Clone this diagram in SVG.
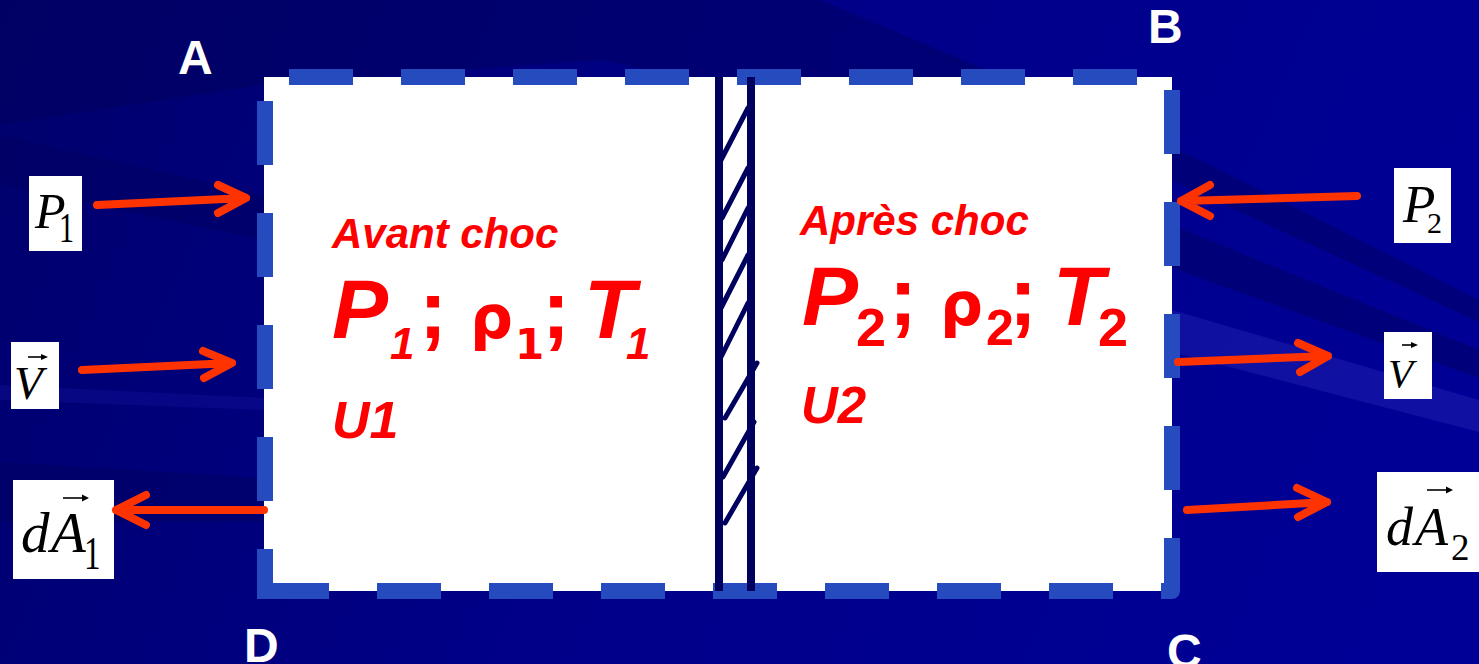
<svg xmlns="http://www.w3.org/2000/svg" width="1479" height="664" viewBox="0 0 1479 664">
<defs>
<linearGradient id="bg" x1="0" y1="0" x2="1479" y2="664" gradientUnits="userSpaceOnUse">
<stop offset="0" stop-color="#00006C"/>
<stop offset="0.45" stop-color="#000088"/>
<stop offset="1" stop-color="#000098"/>
</linearGradient>
<style>
.dash{stroke:#264BBE;stroke-width:16;fill:none;stroke-dasharray:64 48}
.corner{stroke:#264BBE;stroke-width:16;fill:none}
.shock{stroke:#00005E;stroke-width:8;fill:none}
.hatch{stroke:#00005E;stroke-width:5;fill:none;stroke-linecap:round}
.arrow{stroke:#FF3300;stroke-width:8;fill:none;stroke-linecap:round;stroke-linejoin:round}
.corner-lbl{font-family:"Liberation Sans",Arial,sans-serif;font-weight:bold;font-size:48px;fill:#FFFFFF}
.sans{font-family:"Liberation Sans",Arial,sans-serif;font-weight:bold;fill:#FF0000}
.it{font-style:italic}
.dv{font-family:"DejaVu Sans",sans-serif;font-weight:bold;fill:#FF0000}
.box{fill:#FFFFFF}
.math{font-family:"Liberation Serif","Times New Roman",serif;fill:#000000}
.vec{stroke:#000000;stroke-width:1.6;fill:none}
</style>
</defs>
<g id="background">
<rect x="0" y="0" width="1479" height="664" fill="url(#bg)"/>
<polygon points="0,0 820,0 1200,160 1479,300 1479,322 1160,175 600,60 260,85 0,125" fill="#00005A" opacity="0.45"/>
<polygon points="1172,225 1479,350 1479,378 1172,268" fill="#000060" opacity="0.5"/>
<polygon points="1172,310 1479,400 1479,432 1172,352" fill="#2424B4" opacity="0.45"/>
<polygon points="0,135 264,195 264,240 0,185" fill="#00005A" opacity="0.35"/>
<polygon points="0,462 264,478 264,522 0,522" fill="#000060" opacity="0.45"/>
<polygon points="0,385 264,398 264,410 0,400" fill="#1A1AB0" opacity="0.25"/>
</g>
<g id="control-volume">
<rect x="264" y="77" width="908" height="514" fill="#FFFFFF"/>
<line class="dash" x1="289" y1="77" x2="1137" y2="77"/>
<line class="dash" x1="265" y1="101" x2="265" y2="501"/>
<line class="dash" x1="377" y1="591" x2="1113" y2="591"/>
<line class="dash" x1="1172" y1="90" x2="1172" y2="490"/>
<path class="corner" d="M265 549 L265 591 L329 591" stroke-linejoin="miter"/>
<path class="corner" d="M1172 538 L1172 591 L1161 591" stroke-linejoin="round"/>
</g>
<g id="shock">
<line class="shock" x1="719" y1="77" x2="719" y2="591"/>
<line class="shock" x1="751" y1="77" x2="751" y2="591"/>
<line class="hatch" x1="748" y1="108" x2="721" y2="160"/>
<line class="hatch" x1="748" y1="168" x2="722" y2="218"/>
<line class="hatch" x1="748" y1="208" x2="722" y2="260"/>
<line class="hatch" x1="748" y1="255" x2="721" y2="308"/>
<line class="hatch" x1="748" y1="303" x2="721" y2="357"/>
<line class="hatch" x1="757" y1="363" x2="725" y2="418"/>
<line class="hatch" x1="754" y1="422" x2="723" y2="477"/>
<line class="hatch" x1="757" y1="468" x2="725" y2="523"/>
</g>
<g id="corner-labels">
<text class="corner-lbl" x="178" y="74">A</text>
<text class="corner-lbl" x="1148" y="43">B</text>
<text class="corner-lbl" x="244" y="662">D</text>
<text class="corner-lbl" x="1167" y="668">C</text>
</g>
<g id="state-before">
<text class="sans it" x="332" y="248" font-size="42">Avant choc</text>
<text class="sans it" x="332" y="338" font-size="84">P</text>
<text class="sans it" x="390" y="359" font-size="44">1</text>
<text class="sans" x="419" y="338" font-size="84">;</text>
<text class="dv" x="470" y="338" font-size="60">ρ</text>
<text class="dv" x="515" y="359" font-size="42">1</text>
<text class="sans" x="542" y="338" font-size="84">;</text>
<text class="sans it" x="584" y="338" font-size="84">T</text>
<text class="sans it" x="626" y="359" font-size="44">1</text>
<text class="sans it" x="332" y="438" font-size="52">U1</text>
</g>
<g id="state-after">
<text class="sans it" x="800" y="235" font-size="42">Après choc</text>
<text class="sans it" x="802" y="325" font-size="84">P</text>
<text class="sans" x="856" y="346" font-size="54">2</text>
<text class="sans" x="889" y="325" font-size="84">;</text>
<text class="dv" x="940" y="325" font-size="60">ρ</text>
<text class="sans" x="986" y="345" font-size="50">2</text>
<text class="sans" x="1009" y="325" font-size="84">;</text>
<text class="sans it" x="1053" y="325" font-size="84">T</text>
<text class="sans" x="1098" y="346" font-size="54">2</text>
<text class="sans it" x="801" y="423" font-size="51">U2</text>
</g>
<g id="label-P1">
<rect class="box" x="29" y="176" width="53" height="75"/>
<text class="math" x="35" y="228" font-size="50" font-style="italic">P</text>
<text class="math" transform="translate(59,242) scale(0.72,1)" x="0" y="0" font-size="42">1</text>
</g>
<g id="label-V1">
<rect class="box" x="11" y="342" width="48" height="67"/>
<text class="math" x="14" y="399" font-size="47" font-style="italic">V</text>
<line class="vec" x1="28" y1="357" x2="44" y2="357"/>
<polygon points="48,357 41,354 41,360" fill="#000000"/>
</g>
<g id="label-dA1">
<rect class="box" x="13" y="480" width="101" height="99"/>
<text class="math" x="21" y="552" font-size="57" font-style="italic">d</text>
<text class="math" x="51" y="552" font-size="57" font-style="italic">A</text>
<text class="math" transform="translate(84,569) scale(0.72,1)" x="0" y="0" font-size="46">1</text>
<line class="vec" x1="63" y1="498" x2="84" y2="498"/>
<polygon points="89,498 82,494.5 82,501.5" fill="#000000"/>
</g>
<g id="label-P2">
<rect class="box" x="1394" y="168" width="57" height="75"/>
<text class="math" x="1403" y="222" font-size="53" font-style="italic">P</text>
<text class="math" x="1427" y="233" font-size="30">2</text>
</g>
<g id="label-V2">
<rect class="box" x="1384" y="332" width="48" height="67"/>
<text class="math" x="1388" y="387" font-size="41" font-style="italic">V</text>
<line class="vec" x1="1402" y1="345" x2="1414" y2="345"/>
<polygon points="1418,345 1411,342 1411,348" fill="#000000"/>
</g>
<g id="label-dA2">
<rect class="box" x="1377" y="472" width="102" height="100"/>
<text class="math" x="1386" y="545" font-size="54" font-style="italic">d</text>
<text class="math" x="1415" y="545" font-size="54" font-style="italic">A</text>
<text class="math" x="1451" y="560" font-size="37">2</text>
<line class="vec" x1="1427" y1="490" x2="1448" y2="490"/>
<polygon points="1453,490 1446,486.5 1446,493.5" fill="#000000"/>
</g>
<g id="connectors">
<path class="arrow" d="M97 205 L246 198 M218 185 L246 198 L218 213"/>
<path class="arrow" d="M82 370 L232 363 M203 351 L232 363 L204 378"/>
<path class="arrow" d="M264 510 L116 510 M146 495 L116 510 L146 525"/>
<path class="arrow" d="M1357 196 L1181 201 M1210 185 L1181 201 L1210 216"/>
<path class="arrow" d="M1178 362 L1328 356 M1298 343 L1328 356 L1300 372"/>
<path class="arrow" d="M1187 510 L1327 502 M1297 488 L1327 502 L1298 517"/>
</g>
</svg>
